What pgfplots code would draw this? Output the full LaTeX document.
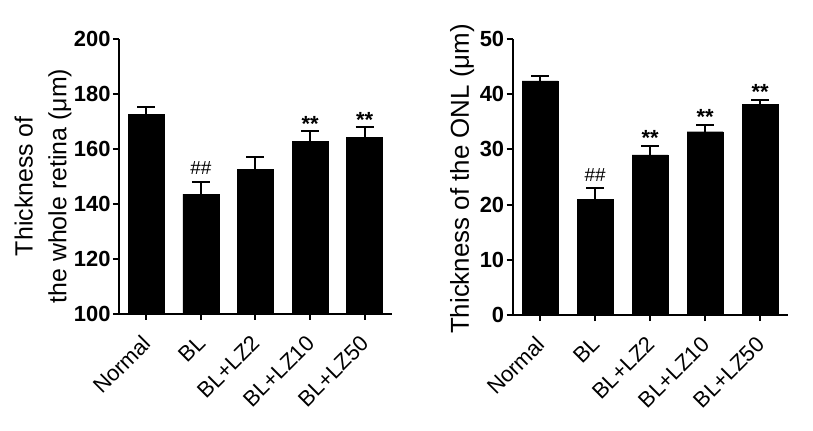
\documentclass[border=0pt]{standalone}
\usepackage{pgfplots}
\pgfplotsset{compat=1.18}
\usepackage{pgfplotstable}
\usepackage{fontspec}
\setmainfont{Liberation Sans}

% mean and SEM for each group
\pgfplotstableread{
x val err
0 172.6 2.6
1 143.6 4.5
2 152.6 4.4
3 162.7 3.7
4 164.2 3.7
}\retina
\pgfplotstableread{
x val err
0 42.4 0.9
1 20.9 2.1
2 29.0 1.7
3 33.2 1.3
4 38.2 0.8
}\onl

\pgfplotsset{
  panel/.style={
    scale only axis,
    axis lines*=left,
    axis line style={line width=2bp, black},
    xmin=-0.5, xmax=4.5,
    xtick={0,1,2,3,4},
    xticklabels={Normal,BL,BL+LZ2,BL+LZ10,BL+LZ50},
    tick align=outside,
    major tick length=6bp,
    every tick/.style={line width=2bp, black},
    /pgf/number format/assume math mode=true,
    yticklabel style={font=\bfseries\fontsize{22}{22}\selectfont, xshift=1bp},
    xticklabel style={font=\fontsize{22}{22}\selectfont, yshift=-17bp, xshift=3bp, rotate=45, anchor=east},
    ylabel style={align=center, anchor=center},
    clip=false,
  },
  bars/.style={
    ybar, fill=black, draw=black, bar width=36bp,
    error bars/.cd, y dir=plus, y explicit,
    error bar style={line width=2bp, black},
    error mark options={rotate=90, line width=2bp, mark size=9bp, black},
  },
  hashes/.style={draw=none, nodes near coords, point meta=explicit symbolic,
    every node near coord/.append style={text=black, anchor=base, yshift=7bp,
      font=\fontsize{19}{19}\selectfont}},
  stars/.style={draw=none, nodes near coords, point meta=explicit symbolic,
    every node near coord/.append style={text=black, anchor=base, yshift=0bp,
      font=\bfseries\fontsize{22}{22}\selectfont}},
}

\begin{document}
\begin{tikzpicture}
\useasboundingbox (0,0) rectangle (813bp,431bp);

% whole retina
\begin{axis}[panel,
  at={(119bp,117bp)}, anchor=south west,
  width=273bp, height=275bp,
  ymin=100, ymax=200, ytick={100,120,...,200},
  ylabel={Thickness of\\the whole retina (μm)},
  ylabel style={at={(axis description cs:-0.278,0.465)}, font=\fontsize{25}{34}\selectfont},
]
\addplot[bars] table[x=x, y=val, y error=err] {\retina};
\addplot[hashes] coordinates {(1,148.1) [\#\#]};
\addplot[stars] coordinates {(3,166.4) [**] (4,167.9) [**]};
\end{axis}

% outer nuclear layer
\begin{axis}[panel,
  at={(512.7bp,116bp)}, anchor=south west,
  width=275bp, height=276bp,
  ymin=0, ymax=50, ytick={0,10,...,50},
  ylabel={Thickness of the ONL (μm)},
  ylabel style={at={(axis description cs:-0.184,0.493)}, font=\fontsize{26}{26}\selectfont},
]
\addplot[bars] table[x=x, y=val, y error=err] {\onl};
\addplot[hashes] coordinates {(1,23.0) [\#\#]};
\addplot[stars] coordinates {(2,30.7) [**] (3,34.5) [**] (4,39.0) [**]};
\end{axis}
\end{tikzpicture}
\end{document}
